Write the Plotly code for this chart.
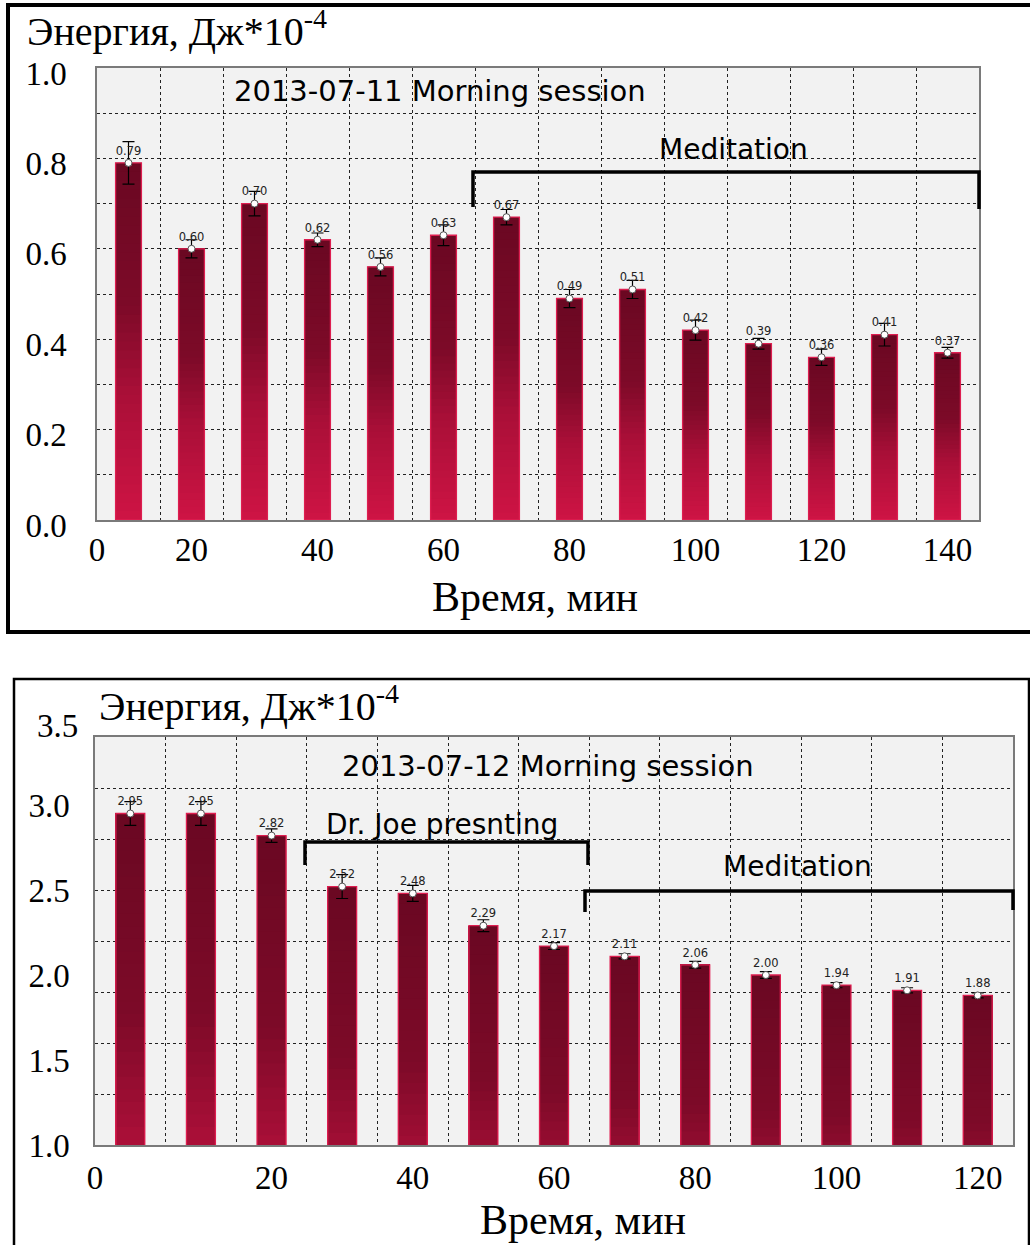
import plotly.graph_objects as go

# ---------------- data ----------------
top_times = [10, 20, 30, 40, 50, 60, 70, 80, 90, 100, 110, 120, 130, 140]
top_energy = [0.79, 0.60, 0.70, 0.62, 0.56, 0.63, 0.67, 0.49, 0.51, 0.42, 0.39, 0.36, 0.41, 0.37]
top_err = [0.047, 0.020, 0.027, 0.015, 0.020, 0.023, 0.017, 0.020, 0.020, 0.022, 0.012, 0.018, 0.025, 0.012]
top_xtick_vals = [5, 20, 40, 60, 80, 100, 120, 140]
top_xtick_text = ["0", "20", "40", "60", "80", "100", "120", "140"]
top_ytick_vals = [0.0, 0.2, 0.4, 0.6, 0.8, 1.0]

bot_times = [0, 10, 20, 30, 40, 50, 60, 70, 80, 90, 100, 110, 120]
bot_energy = [2.95, 2.95, 2.82, 2.52, 2.48, 2.29, 2.17, 2.11, 2.06, 2.00, 1.94, 1.91, 1.88]
bot_err = [0.070, 0.070, 0.040, 0.070, 0.047, 0.035, 0.020, 0.015, 0.020, 0.020, 0.015, 0.015, 0.015]
bot_xtick_vals = [-5, 20, 40, 60, 80, 100, 120]
bot_xtick_text = ["0", "20", "40", "60", "80", "100", "120"]
bot_ytick_vals = [1.0, 1.5, 2.0, 2.5, 3.0]

W, H = 1030, 1245


def px(x):
    return x / W


def py(y):
    return 1 - y / H


# gradient stops: fraction from bar bottom -> rgb
stops = [(0.0, (206, 20, 68)), (0.35, (170, 15, 56)), (0.6, (125, 10, 40)), (1.0, (106, 8, 34))]


def grad_color(f):
    for (f0, c0), (f1, c1) in zip(stops[:-1], stops[1:]):
        if f0 <= f <= f1:
            t = (f - f0) / (f1 - f0)
            return "rgb(%d,%d,%d)" % tuple(round(a + (b - a) * t) for a, b in zip(c0, c1))
    return "rgb(%d,%d,%d)" % stops[-1][1]


N = 40
BAR_W = 4.1
fig = go.Figure()


def add_panel(times, vals, errs, xa, ya):
    for k in range(N):
        fr = k / N
        fig.add_trace(go.Bar(
            x=times, y=[v * (1 - fr) for v in vals], base=[v * fr for v in vals],
            width=BAR_W, marker=dict(color=grad_color(fr + 0.5 / N), line=dict(width=0)),
            xaxis=xa, yaxis=ya, hoverinfo="skip"))
    fig.add_trace(go.Bar(
        x=times, y=vals, width=BAR_W,
        marker=dict(color="rgba(0,0,0,0)", line=dict(color="rgb(222,30,80)", width=1.3)),
        xaxis=xa, yaxis=ya, hoverinfo="skip"))
    fig.add_trace(go.Scatter(
        x=times, y=vals, mode="markers+text",
        marker=dict(size=7, color="white", line=dict(color="#555", width=1)),
        error_y=dict(type="data", array=errs, visible=True, color="black", thickness=1.2, width=6),
        text=["%.2f" % v for v in vals], textposition="top center",
        textfont=dict(family="DejaVu Sans", size=11.5, color="#222"),
        cliponaxis=False, xaxis=xa, yaxis=ya))


add_panel(top_times, top_energy, top_err, "x", "y")
add_panel(bot_times, bot_energy, bot_err, "x2", "y2")

tickfont = dict(family="Liberation Serif", size=33, color="black")
grid = dict(showgrid=True, gridcolor="#222", gridwidth=1, griddash="dot", ticks="")
axis_common = dict(showline=True, mirror=True, linecolor="#7a7a7a", linewidth=1.5, automargin=False,
                   showgrid=False, zeroline=False, ticks="", tickfont=tickfont, fixedrange=True)

fig.update_layout(
    template="none",
    width=W, height=H, autosize=False,
    margin=dict(l=0, r=0, t=0, b=0, pad=0),
    paper_bgcolor="white", plot_bgcolor="#f2f2f2",
    showlegend=False, barmode="overlay",
    xaxis=dict(domain=[px(97), px(979)], anchor="y", range=[5, 145],
               tickmode="array", tickvals=top_xtick_vals, ticktext=top_xtick_text,
               ticklabelstandoff=0,
               minor=dict(tickmode="linear", tick0=5, dtick=10, **grid), **axis_common),
    yaxis=dict(domain=[py(520), py(68)], anchor="x", range=[0, 1.0],
               tickmode="array", tickvals=top_ytick_vals, tickformat=".1f",
               ticklabelstandoff=22, ticklabelshift=5,
               minor=dict(tickmode="linear", tick0=0, dtick=0.1, **grid), **axis_common),
    xaxis2=dict(domain=[px(95), px(1013)], anchor="y2", range=[-5, 125],
                tickmode="array", tickvals=bot_xtick_vals, ticktext=bot_xtick_text,
                ticklabelstandoff=3,
                minor=dict(tickmode="linear", tick0=-5, dtick=10, **grid), **axis_common),
    yaxis2=dict(domain=[py(1145), py(737)], anchor="x2", range=[1.0, 3.4],
                tickmode="array", tickvals=bot_ytick_vals, tickformat=".1f",
                ticklabelstandoff=17,
                minor=dict(tickmode="linear", tick0=1.0, dtick=0.3, **grid), **axis_common),
)

serif = "Liberation Serif"
sans = "DejaVu Sans"
ann = [
    dict(x=px(25), y=py(29), text="Энергия, Дж*10<sup>-4</sup>", xanchor="left", yanchor="middle",
         font=dict(family=serif, size=40, color="black")),
    dict(x=px(535), y=py(597), text="Время, мин", font=dict(family=serif, size=42, color="black")),
    dict(x=px(440), y=py(91), text="2013-07-11 Morning session", font=dict(family=sans, size=29, color="black")),
    dict(x=px(733), y=py(150), text="Meditation", font=dict(family=sans, size=28, color="black")),
    dict(x=px(97), y=py(704), text="Энергия, Дж*10<sup>-4</sup>", xanchor="left", yanchor="middle",
         font=dict(family=serif, size=40, color="black")),
    dict(x=px(80), y=py(726), text="3.5", xanchor="right", font=tickfont),
    dict(x=px(583), y=py(1220), text="Время, мин", font=dict(family=serif, size=42, color="black")),
    dict(x=px(548), y=py(766), text="2013-07-12 Morning session", font=dict(family=sans, size=29, color="black")),
    dict(x=px(442), y=py(824), text="Dr. Joe presnting", font=dict(family=sans, size=28, color="black")),
    dict(x=px(797), y=py(866), text="Meditation", font=dict(family=sans, size=28, color="black")),
]
for a in ann:
    a.setdefault("xanchor", "center")
    a.setdefault("yanchor", "middle")
    fig.add_annotation(xref="paper", yref="paper", showarrow=False, **a)


def bracket(x0, x1, ytop, yb0, yb1, w=3.5):
    fig.add_shape(type="path", xref="paper", yref="paper",
                  path="M %f %f L %f %f L %f %f L %f %f" % (px(x0), py(yb0), px(x0), py(ytop),
                                                            px(x1), py(ytop), px(x1), py(yb1)),
                  line=dict(color="black", width=w))


bracket(473, 979, 172, 207, 209)
bracket(305, 588, 842, 865, 865)
bracket(585, 1013, 891, 912, 910)

# outer frames
fig.add_shape(type="rect", xref="paper", yref="paper", x0=px(8), y0=py(632), x1=px(1036), y1=py(5),
              line=dict(color="black", width=4))
fig.add_shape(type="rect", xref="paper", yref="paper", x0=px(14), y0=py(1252), x1=px(1029), y1=py(679),
              line=dict(color="black", width=2.5))

fig.write_html("out.html", config={"displayModeBar": False},
               post_script="document.body.style.margin='0';document.body.style.overflow='hidden';")
